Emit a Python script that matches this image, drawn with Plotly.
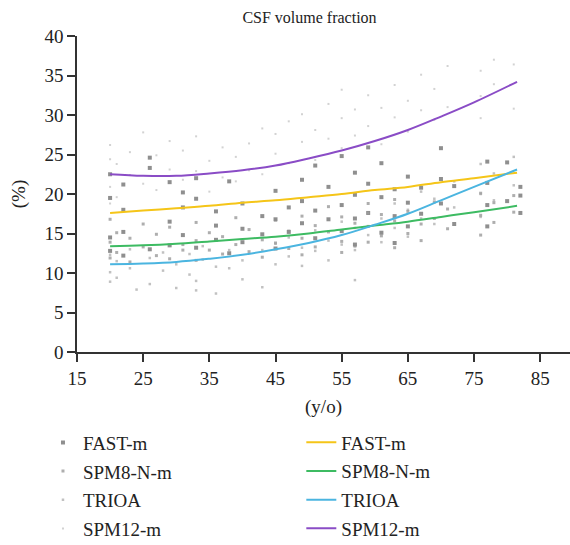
import plotly.graph_objects as go

# ---- scatter data (age, value) ----
fast_age = [20,20,20,20,22,22,22,22,26,26,26,29,29,29,31,31,31,33,33,33,36,36,36,38,38,40,40,40,43,43,
            45,45,45,47,47,49,49,49,51,51,51,53,53,55,55,55,57,57,57,57,59,59,59,61,61,61,63,63,63,65,65,65,
            67,67,70,70,70,72,72,77,77,77,77,80,80,82,82,82]
fast_val = [22.5,19.5,14.5,12.8,21.2,18.0,15.2,12.2,24.6,23.3,13.0,21.5,16.5,13.5,20.2,18.3,14.8,22.0,19.4,13.2,
            17.8,16.0,14.2,21.6,12.5,18.8,15.6,13.9,17.2,14.9,20.4,16.8,13.1,18.3,15.2,21.8,19.1,16.3,23.6,17.9,14.4,
            20.9,16.8,24.8,18.6,15.3,22.7,19.9,16.9,13.6,25.9,21.3,17.6,23.9,19.6,15.1,20.6,17.2,13.8,22.2,18.9,15.9,
            20.8,17.5,25.8,21.9,18.8,21.0,16.2,24.1,21.4,18.6,15.9,24.0,19.1,20.9,19.8,17.6]

spm8_age = [20,20,20,21,21,23,23,25,25,27,27,29,29,31,31,33,33,33,35,35,37,37,39,39,41,41,43,43,45,45,
            47,47,49,49,49,51,51,53,53,55,55,55,57,57,59,59,59,61,61,63,63,63,65,65,67,67,69,69,71,71,
            76,76,76,78,78,81,81]
spm8_val = [16.8,13.9,11.9,15.1,12.6,14.4,11.4,16.2,13.3,14.9,12.2,15.8,11.8,13.6,12.9,16.4,14.1,11.6,15.1,12.9,
            14.6,12.4,17.0,13.6,15.5,12.7,14.2,12.0,16.7,13.8,15.3,13.1,17.2,14.4,12.3,16.0,13.3,18.4,15.2,
            17.1,14.0,12.6,16.3,13.4,18.8,15.9,13.9,17.4,14.7,19.3,16.6,13.2,17.8,15.0,16.2,14.1,19.0,16.9,18.1,15.6,
            20.1,17.3,14.8,18.9,16.4,19.8,17.7]

trioa_age = [20,20,20,21,21,23,23,24,26,26,28,28,30,30,32,32,33,33,34,34,36,36,38,38,40,40,43,43,45,45,
             47,47,49,49,51,51,53,53,55,55,57,57,57,59,59,61,61,63,63,65,65,67,67,69,69,72,72,76,76,76,78,78,81,81]
trioa_val = [12.3,10.1,8.9,11.5,9.4,13.0,10.6,7.9,11.9,8.6,12.6,10.3,11.1,8.1,12.4,9.8,7.8,9.0,11.7,13.4,
             10.8,7.4,12.9,10.6,11.6,9.2,12.9,8.2,13.7,11.1,14.5,12.1,13.2,10.9,15.4,12.8,14.1,11.6,16.5,13.6,
             15.7,12.9,9.1,17.6,14.8,16.9,13.9,18.8,15.7,18.0,14.6,20.3,16.9,19.4,16.2,21.6,18.3,23.8,20.0,17.1,
             22.6,19.2,24.7,21.1]

spm12_age = [20,20,20,20,21,21,23,23,25,25,27,27,29,29,31,31,33,33,35,35,37,37,39,39,41,41,43,43,45,45,
             47,47,49,49,51,51,53,53,55,55,55,57,57,59,59,61,61,63,63,65,65,67,67,69,69,71,71,76,76,76,78,78,81,81]
spm12_val = [26.2,24.4,20.9,18.8,23.8,19.6,22.4,25.3,27.8,21.3,24.9,20.5,23.1,26.7,25.5,21.8,27.3,22.9,24.2,20.3,
             25.9,22.1,21.6,24.7,26.4,23.0,28.3,22.5,25.1,27.6,29.2,23.9,26.6,30.1,28.1,24.3,31.4,27.0,29.6,25.8,33.2,
             30.7,27.4,32.5,28.6,30.9,26.3,33.8,29.7,31.8,27.9,35.1,30.6,33.3,29.4,36.2,31.0,35.6,32.4,29.6,37.0,33.9,
             36.4,30.8]

# ---- fitted curves ----
fit_age = [20, 25, 30, 35, 40, 45, 50, 55, 60, 65, 70, 75, 81.5]
fit_fast = [17.6, 17.9, 18.2, 18.5, 18.9, 19.2, 19.6, 20.0, 20.5, 20.9, 21.5, 22.0, 22.7]
fit_spm8 = [13.4, 13.5, 13.7, 14.0, 14.3, 14.6, 15.0, 15.5, 16.0, 16.5, 17.1, 17.7, 18.5]
fit_trioa = [11.1, 11.2, 11.4, 11.8, 12.3, 13.0, 13.8, 14.8, 16.1, 17.5, 19.2, 20.9, 23.1]
fit_spm12 = [22.5, 22.3, 22.3, 22.6, 23.0, 23.6, 24.5, 25.5, 26.7, 28.1, 29.8, 31.6, 34.2]

names = ["FAST-m", "SPM8-N-m", "TRIOA", "SPM12-m"]
SERIF = "Liberation Serif"

fig = go.Figure()

scatter_sets = [(fast_age, fast_val, 4, "rgba(115,115,115,0.8)"),
                (spm8_age, spm8_val, 3, "rgba(140,140,140,0.7)"),
                (trioa_age, trioa_val, 2.5, "rgba(160,160,160,0.65)"),
                (spm12_age, spm12_val, 2, "rgba(180,180,180,0.6)")]
for name, (xa, ya, sz, col) in zip(names, scatter_sets):
    fig.add_trace(go.Scatter(x=xa, y=ya, mode="markers", name=name,
                             marker=dict(symbol="square", size=sz, color=col, line=dict(width=0)),
                             legend="legend", legendgroup="s" + name, showlegend=True))

line_sets = [(fit_fast, "#f5c518"), (fit_spm8, "#3dbb62"), (fit_trioa, "#4bb5e0"), (fit_spm12, "#8a4cc6")]
for name, (ya, col) in zip(names, line_sets):
    fig.add_trace(go.Scatter(x=fit_age, y=ya, mode="lines", name=name, line_shape="spline",
                             line=dict(color=col, width=2),
                             legend="legend2", legendgroup="l" + name, showlegend=True))

leg_common = dict(font=dict(family=SERIF, size=19, color="#222"), tracegroupgap=1,
                  bgcolor="rgba(0,0,0,0)", xanchor="left", yanchor="top", itemwidth=30)

fig.update_layout(
    width=570, height=545,
    margin=dict(l=77, r=0, t=36, b=193, autoexpand=False),
    paper_bgcolor="white", plot_bgcolor="white",
    title=dict(text="CSF volume fraction", x=0.543, xanchor="center", y=0.968, yanchor="middle",
               font=dict(family=SERIF, size=16, color="#222")),
    xaxis=dict(range=[15, 89.5], tick0=15, dtick=10, showgrid=False, zeroline=False,
               showline=True, linecolor="#333", linewidth=1.5, ticks="outside", ticklen=8,
               tickcolor="#333", tickwidth=1.5,
               tickfont=dict(family=SERIF, size=19, color="#222"),
               title=dict(text="(y/o)", font=dict(family=SERIF, size=19, color="#222"), standoff=12)),
    yaxis=dict(range=[0, 40], dtick=5, showgrid=False, zeroline=False,
               showline=True, linecolor="#333", linewidth=1.5, ticks="outside", ticklen=8,
               tickcolor="#333", tickwidth=1.5,
               tickfont=dict(family=SERIF, size=19, color="#222"),
               title=dict(text="(%)", font=dict(family=SERIF, size=19, color="#222"), standoff=14)),
    legend=dict(x=-0.069, y=-0.2265, **leg_common),
    legend2=dict(x=0.455, y=-0.226, **leg_common),
)

fig.write_html("out.html")
